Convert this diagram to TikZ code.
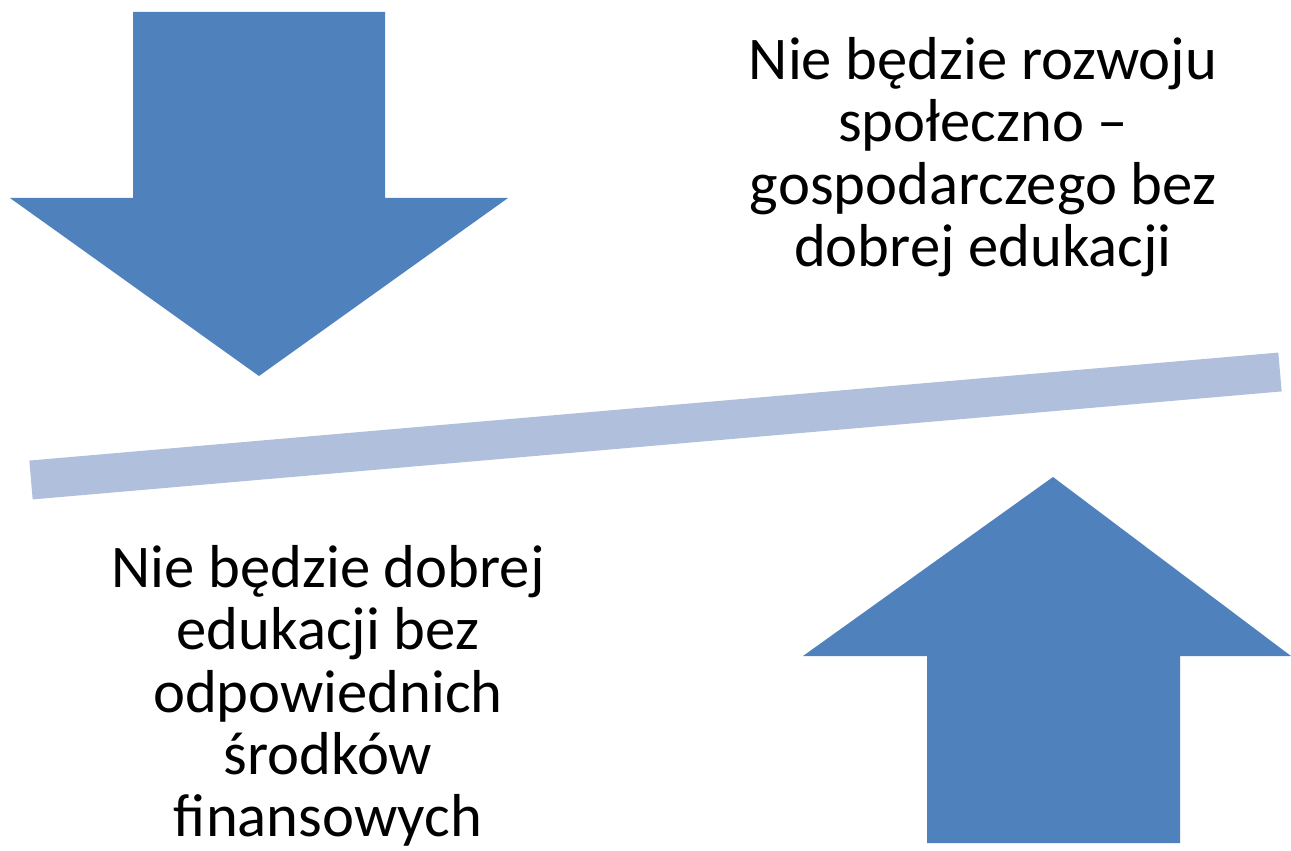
\documentclass[tikz,border=0pt]{standalone}
\usepackage{fontspec}
\setmainfont{Carlito}
\definecolor{arrowblue}{RGB}{79, 129, 189}
\definecolor{barblue}{RGB}{176, 192, 220}
\usetikzlibrary{positioning}

\begin{document}
\begin{tikzpicture}[x=0.02cm, y=-0.02cm,
  bigarrow/.style={fill=arrowblue, draw=none},
  bar/.style={draw=barblue, line width=0.78cm},
  txt/.style={align=center, font=\fontsize{34.5}{35.5}\selectfont, inner sep=0pt}
]
  \useasboundingbox (0,0) rectangle (1291,851);
  % down arrow
  \fill[bigarrow] (133,12) -- (385,12) -- (385,198) -- (508,198) -- (259,376)
    -- (10,198) -- (133,198) -- cycle;
  % tilted bar
  \draw[bar] (31,480) -- (1280,372);
  % up arrow
  \fill[bigarrow] (1053,477) -- (1291,656) -- (1180,656) -- (1180,843)
    -- (927,843) -- (927,656) -- (803,656) -- cycle;
  \node[txt] (top) at (983,157) {Nie będzie rozwoju\\społeczno –\\gospodarczego bez\\dobrej edukacji};
  \node[txt] (bottom) at (328,696) {Nie będzie dobrej\\edukacji bez\\odpowiednich\\środków\\finansowych};
\end{tikzpicture}
\end{document}
